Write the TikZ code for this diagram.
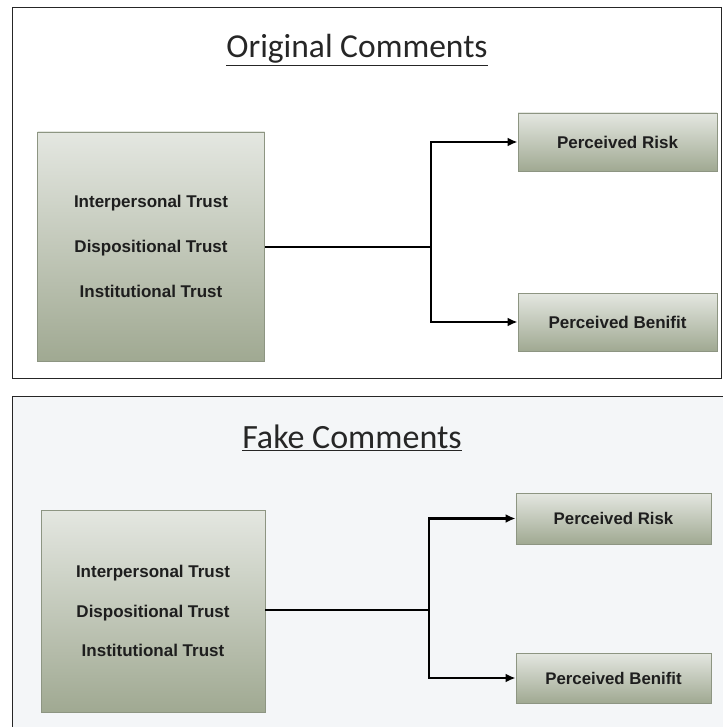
\documentclass[tikz,border=0pt]{standalone}
\usepackage{fontspec}
\setmainfont{Liberation Sans}
\newfontfamily\titlefont{Carlito}
\usetikzlibrary{arrows.meta}
\definecolor{boxtop}{HTML}{E4E7E1}
\definecolor{boxbot}{HTML}{A0A992}
\definecolor{boxline}{HTML}{8D9582}
\definecolor{panelbg}{HTML}{F4F6F8}
\definecolor{txt}{HTML}{1E1E1E}
\tikzset{
  gbox/.style={draw=boxline, line width=0.9pt, top color=boxtop, bottom color=boxbot,
    inner sep=0pt, text=txt, align=center},
  conn/.style={line width=2.6pt, black},
  arr/.style={conn, -{Latex[length=10pt,width=9pt]}},
  ttl/.style={text=black!85, inner sep=0pt}
}
\begin{document}
\begin{tikzpicture}[x=1pt,y=-1pt]
\useasboundingbox (0,0) rectangle (723,727);
\fill[white] (0,0) rectangle (723,727);
% top panel
\draw[line width=1pt, black!85] (12,8) rectangle (721,378);
\node[ttl, font=\titlefont\fontsize{33.5}{38}\selectfont] (t1) at (357,50) {\underline{Original Comments}};
\node[gbox, minimum width=227pt, minimum height=229pt, font=\bfseries\fontsize{17}{45}\selectfont] (L1) at (151,246.5)
  {Interpersonal Trust\\Dispositional Trust\\Institutional Trust};
\node[gbox, minimum width=199pt, minimum height=58pt, font=\bfseries\fontsize{17}{20}\selectfont] (R1) at (617.5,142) {Perceived Risk};
\node[gbox, minimum width=199pt, minimum height=58pt, font=\bfseries\fontsize{17}{20}\selectfont] (B1) at (617.5,322) {Perceived Benifit};
\coordinate (J1) at (431,247);
\draw[conn] (L1.east |- J1) -- (J1);
\draw[arr] (J1) |- (R1.west);
\draw[arr] (J1) |- (B1.west);
% bottom panel
\fill[panelbg] (12,396) rectangle (723,727);
\draw[line width=1pt, black!85] (12,727) -- (12,396) -- (723,396);
\node[ttl, font=\titlefont\fontsize{34}{38}\selectfont] (t2) at (352,438) {\underline{Fake Comments}};
\node[gbox, minimum width=224pt, minimum height=202pt, font=\bfseries\fontsize{17}{39.5}\selectfont] (L2) at (153,611)
  {Interpersonal Trust\\Dispositional Trust\\Institutional Trust};
\node[gbox, minimum width=195pt, minimum height=51pt, font=\bfseries\fontsize{16.8}{20}\selectfont] (R2) at (613.5,518.5) {Perceived Risk};
\node[gbox, minimum width=195pt, minimum height=50pt, font=\bfseries\fontsize{16.8}{20}\selectfont] (B2) at (613.5,678) {Perceived Benifit};
\coordinate (J2) at (429,610);
\draw[conn] (L2.east |- J2) -- (J2);
\draw[arr] (J2) |- (R2.west);
\draw[arr] (J2) |- (B2.west);
\end{tikzpicture}
\end{document}
